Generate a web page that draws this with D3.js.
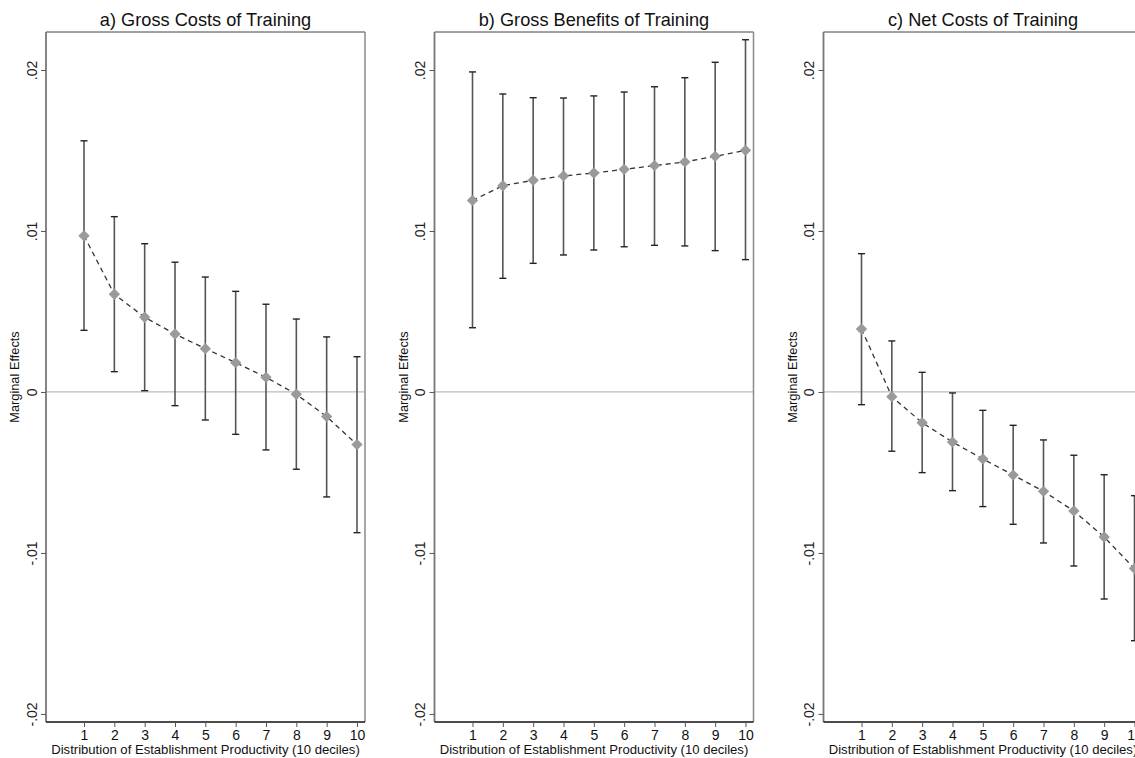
<!DOCTYPE html>
<html><head><meta charset="utf-8">
<script src="https://cdn.jsdelivr.net/npm/d3@7"></script>
<style>body{margin:0;background:#fff;}svg{display:block;font-family:"Liberation Sans",Arial,sans-serif;}</style>
</head><body>
<svg id="chart" width="1135" height="758"></svg>
<script>
const deciles = [1,2,3,4,5,6,7,8,9,10];
const yTicks = [-0.02,-0.01,0,0.01,0.02];
const yTickLabels = ["-.02","-.01","0",".01",".02"];
const titles = ["a) Gross Costs of Training","b) Gross Benefits of Training","c) Net Costs of Training"];
const xTitle = "Distribution of Establishment Productivity (10 deciles)";
const yTitle = "Marginal Effects";

const costEst = [0.0097,0.00607,0.00464,0.0036,0.00269,0.00182,0.00091,-0.00014,-0.00153,-0.00327];
const costHi  = [0.0156,0.01089,0.00921,0.00806,0.00714,0.00625,0.00545,0.00453,0.00342,0.00219];
const costLo  = [0.00383,0.00126,0.00008,-0.00085,-0.00174,-0.00263,-0.0036,-0.0048,-0.00652,-0.00874];

const benEst = [0.0119,0.01281,0.01315,0.01342,0.0136,0.01383,0.01406,0.01429,0.01464,0.01501];
const benHi  = [0.01988,0.01851,0.01828,0.01826,0.01839,0.01863,0.01896,0.01952,0.02048,0.02188];
const benLo  = [0.00399,0.00706,0.00799,0.00851,0.00882,0.00902,0.00911,0.00907,0.00878,0.00822];

const netEst = [0.00391,-0.00029,-0.00191,-0.00311,-0.00416,-0.00516,-0.00617,-0.00739,-0.00901,-0.01097];
const netHi  = [0.00859,0.00317,0.00122,-0.00006,-0.00114,-0.00207,-0.00298,-0.00393,-0.00514,-0.00644];
const netLo  = [-0.00079,-0.00368,-0.00501,-0.00613,-0.00712,-0.00822,-0.00938,-0.01081,-0.01286,-0.01545];

const panels = [
  {title:titles[0], est:costEst, hi:costHi, lo:costLo, left:46},
  {title:titles[1], est:benEst, hi:benHi, lo:benLo, left:434.5},
  {title:titles[2], est:netEst, hi:netHi, lo:netLo, left:823.5}
];

const svg = d3.select("#chart");
const plotTop = 32, plotBottom = 722, pw = 319;

panels.forEach(p => {
  const g = svg.append("g");
  const x = d3.scaleLinear().domain([-0.253, 10.264]).range([p.left, p.left + pw]);
  const y = d3.scaleLinear().domain([-0.0205, 0.02236]).range([plotBottom, plotTop]);

  // zero line
  g.append("line").attr("x1", x.range()[0]).attr("x2", x.range()[1])
    .attr("y1", y(0)).attr("y2", y(0)).attr("stroke", "#bdbdbd").attr("stroke-width", 1.2);

  // frame top & right
  g.append("line").attr("x1", p.left).attr("x2", p.left + pw).attr("y1", plotTop).attr("y2", plotTop)
    .attr("stroke", "#444").attr("stroke-width", 1);
  g.append("line").attr("x1", p.left + pw).attr("x2", p.left + pw).attr("y1", plotTop).attr("y2", plotBottom)
    .attr("stroke", "#8a8a8a").attr("stroke-width", 1.5);

  // y axis
  const ya = d3.axisLeft(y).tickValues(yTicks).tickFormat((d,i) => yTickLabels[i]).tickSize(5).tickPadding(4);
  const yg = g.append("g").attr("transform", `translate(${p.left},0)`).call(ya);
  yg.select(".domain").attr("stroke", "#777").attr("stroke-width", 1.8).attr("d", `M0,${plotTop}V${plotBottom}`);
  yg.selectAll(".tick line").attr("stroke", "#555");
  yg.selectAll(".tick text").attr("font-size", 14).attr("fill", "#222")
    .attr("text-anchor", "middle")
    .attr("transform", "translate(-14,0) rotate(-90)").attr("x", 0).attr("y", 0).attr("dy", "0.35em");

  // x axis
  const xa = d3.axisBottom(x).tickValues(deciles).tickFormat(d3.format("d")).tickSize(5).tickPadding(3);
  const xg = g.append("g").attr("transform", `translate(0,${plotBottom})`).call(xa);
  xg.select(".domain").attr("stroke", "#111").attr("stroke-width", 1.5).attr("d", `M${p.left},0H${p.left+pw}`);
  xg.selectAll(".tick line").attr("stroke", "#555");
  xg.selectAll(".tick text").attr("font-size", 14).attr("fill", "#111");

  // titles
  g.append("text").attr("x", p.left + pw/2).attr("y", 26).attr("text-anchor", "middle")
    .attr("font-size", 18.2).attr("fill", "#111").text(p.title);
  g.append("text").attr("x", p.left + pw/2).attr("y", 754).attr("text-anchor", "middle")
    .attr("font-size", 13.1).attr("fill", "#111").text(xTitle);
  g.append("text").attr("transform", `translate(${p.left - 27},${(plotTop+plotBottom)/2}) rotate(-90)`)
    .attr("text-anchor", "middle").attr("font-size", 12.8).attr("fill", "#111").text(yTitle);

  // error bars
  const bars = g.append("g");
  deciles.forEach((d, i) => {
    bars.append("line").attr("x1", x(d)).attr("x2", x(d)).attr("y1", y(p.hi[i])).attr("y2", y(p.lo[i]))
      .attr("stroke", "#555").attr("stroke-width", 1.6);
    [p.hi[i], p.lo[i]].forEach(v => {
      bars.append("line").attr("x1", x(d) - 3.5).attr("x2", x(d) + 3.5).attr("y1", y(v)).attr("y2", y(v))
        .attr("stroke", "#222").attr("stroke-width", 1.4);
    });
  });

  // dashed line
  const line = d3.line().x(d => x(d)).y((d,i) => y(p.est[i]));
  g.append("path").datum(deciles).attr("d", line).attr("fill", "none")
    .attr("stroke", "#333").attr("stroke-width", 1.3).attr("stroke-dasharray", "5,4");

  // markers (rotated squares = diamonds)
  const diamond = d3.symbol().type(d3.symbolSquare).size(64);
  deciles.forEach((d, i) => {
    g.append("path").attr("d", diamond).attr("transform", `translate(${x(d)},${y(p.est[i])}) rotate(45)`)
      .attr("fill", "#9a9a9a");
  });
});
</script>
</body></html>
